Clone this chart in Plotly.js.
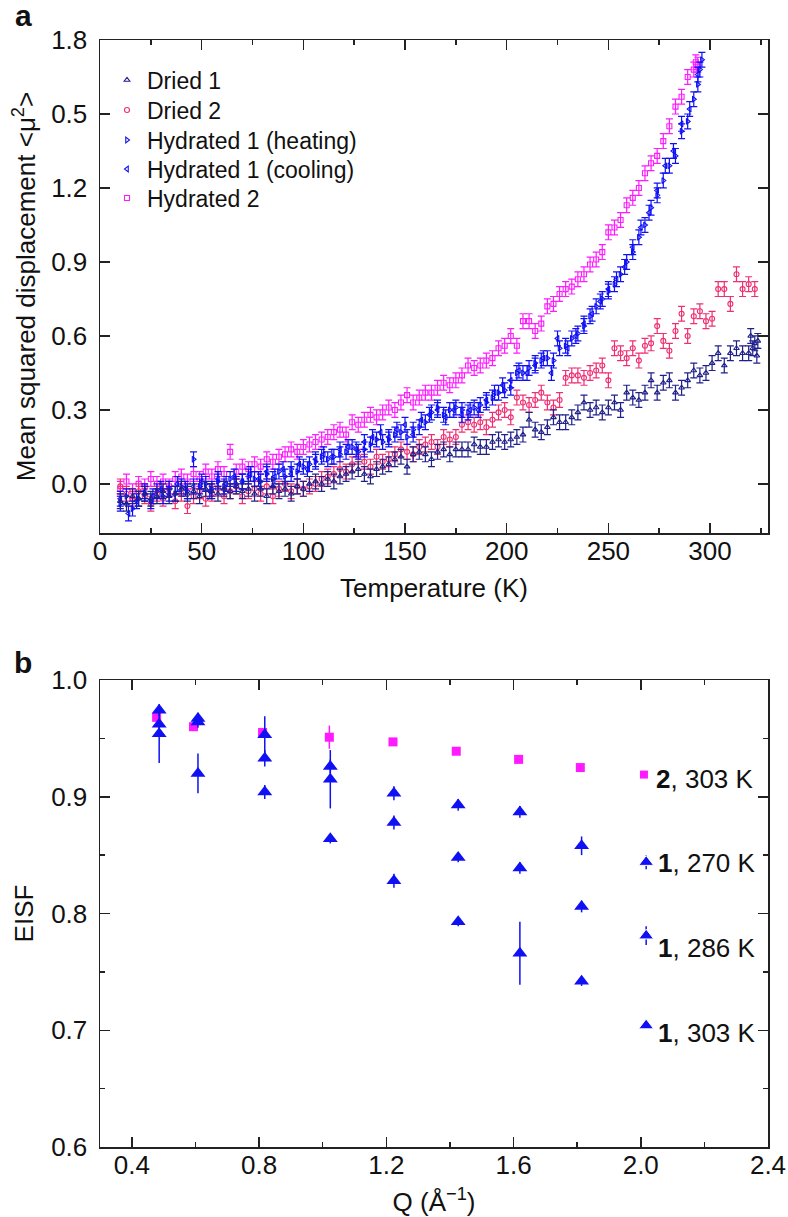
<!DOCTYPE html>
<html>
<head>
<meta charset="utf-8">
<script src="https://cdn.plot.ly/plotly-3.0.1.min.js"></script>
<style>
  html, body { margin: 0; padding: 0; background: #fff; }
  #chart { width: 788px; height: 1217px; }
</style>
</head>
<body>
<div id="chart"></div>
<script>
// ---- panel a: mean squared displacement vs temperature ----
const tempDried1 = [10,13,16,19,22,25,28,31,34,37,40,43,46,49,52,55,58,61,64,67,70,73,76,79,82,85,88,91,94,97,
  100,103,106,109,112,115,118,121,124,127,130,133,136,139,142,145,148,151,154,157,160,163,166,169,172,175,178,181,184,187,
  190,193,196,199,202,205,208,211,214,217,220,223,226,229,232,235,238,241,244,247,250,253,256,259,262,265,268,271,274,277,
  280,283,286,289,292,295,298,301,304,307,310,313,316,319,322,320,321,323,323.5];
const msdDried1 = [-0.07,-0.08,-0.05,-0.06,-0.04,-0.06,-0.05,-0.03,-0.05,-0.04,-0.02,-0.04,-0.03,-0.05,-0.02,-0.03,-0.04,-0.02,-0.03,-0.01,
  -0.03,-0.02,-0.04,-0.02,-0.05,-0.01,-0.03,-0.02,-0.04,-0.01,-0.02,0.00,0.01,0.00,0.02,0.01,0.03,0.04,0.05,0.06,
  0.04,0.03,0.06,0.07,0.08,0.10,0.11,0.07,0.12,0.13,0.12,0.10,0.13,0.14,0.12,0.14,0.14,0.14,0.16,0.15,
  0.15,0.17,0.18,0.17,0.18,0.19,0.20,0.26,0.22,0.21,0.23,0.27,0.25,0.25,0.27,0.29,0.33,0.30,0.31,0.29,
  0.31,0.33,0.30,0.37,0.35,0.34,0.37,0.42,0.37,0.41,0.42,0.37,0.39,0.42,0.46,0.44,0.45,0.49,0.53,0.48,
  0.53,0.55,0.53,0.53,0.57,0.60,0.55,0.52,0.58];

const tempDried2 = [10,13,16,19,22,25,28,31,34,37,40,43,46,49,52,55,58,61,64,67,70,73,76,79,82,85,88,91,94,97,
  100,103,106,109,112,115,118,121,124,127,130,133,136,139,142,145,148,151,154,157,160,163,166,169,172,175,178,181,184,187,
  190,193,196,199,202,205,208,211,214,217,220,223,226,229,232,235,238,241,244,247,250,253,256,259,262,265,268,271,274,277,
  280,283,286,289,292,295,298,301,304,307,310,313,316,319,322];
const msdDried2 = [-0.01,-0.04,-0.06,-0.03,-0.05,-0.08,-0.04,-0.06,-0.02,-0.07,-0.04,-0.09,-0.05,-0.03,-0.06,-0.04,-0.02,-0.05,-0.03,-0.01,
  -0.05,-0.03,-0.02,-0.04,-0.01,-0.05,-0.02,0.00,-0.03,-0.01,-0.02,-0.01,0.00,0.02,0.03,0.04,0.06,0.05,0.08,0.11,
  0.09,0.07,0.11,0.09,0.10,0.12,0.14,0.13,0.12,0.15,0.16,0.17,0.15,0.19,0.18,0.19,0.24,0.25,0.24,0.25,
  0.23,0.26,0.29,0.30,0.27,0.35,0.33,0.32,0.34,0.37,0.33,0.31,0.34,0.43,0.44,0.44,0.43,0.45,0.46,0.48,
  0.42,0.55,0.53,0.51,0.55,0.50,0.56,0.57,0.64,0.58,0.54,0.62,0.69,0.60,0.68,0.70,0.66,0.67,0.79,0.79,
  0.73,0.85,0.79,0.81,0.79];

const tempHeating = [10,13,16,19,22,25,28,31,34,37,40,43,46,49,52,55,58,61,64,67,70,73,76,79,82,85,88,91,94,97,
  100,103,106,109,112,115,118,121,124,127,130,133,136,139,142,145,148,151,154,157,160,163,166,169,172,175,178,181,184,187,
  190,193,196,199,202,205,208,211,214,217,220,223,226,229,232,235,238,241,244,247,250,253,256,259,262,265,268,271,274,277,
  280,283,286,289,292,294,295,296];
const msdHeating = [-0.08,-0.05,-0.10,-0.06,-0.04,-0.07,-0.03,-0.05,-0.02,-0.04,-0.01,-0.03,0.10,-0.01,0.00,-0.02,0.01,-0.01,0.02,0.00,
  0.01,0.03,0.02,0.01,0.04,0.02,0.05,0.03,0.06,0.05,0.07,0.08,0.09,0.11,0.10,0.11,0.12,0.13,0.15,0.13,
  0.14,0.16,0.18,0.17,0.18,0.20,0.21,0.19,0.22,0.23,0.25,0.29,0.31,0.28,0.30,0.31,0.30,0.29,0.31,0.32,
  0.33,0.35,0.37,0.38,0.39,0.45,0.45,0.47,0.49,0.50,0.51,0.50,0.55,0.56,0.59,0.61,0.64,0.68,0.72,0.75,
  0.78,0.81,0.85,0.90,0.94,1.00,1.05,1.12,1.17,1.23,1.29,1.33,1.43,1.47,1.56,1.62,1.68,1.72];

const tempCooling = [10,14,18,22,26,30,34,38,42,46,50,54,58,62,66,70,74,78,82,86,90,94,98,102,106,110,114,118,122,126,
  130,134,138,142,146,150,154,158,162,166,170,174,178,182,186,190,194,198,202,206,210,214,218,222,225,230,234,238,242,246,
  250,254,258,262,266,270,274,278,282,286,290,294];
const msdCooling = [-0.06,-0.12,-0.07,-0.03,-0.05,-0.02,-0.04,0.00,-0.02,-0.01,0.01,-0.03,0.02,0.00,0.03,0.01,0.04,0.02,0.05,0.03,
  0.06,0.04,0.08,0.06,0.10,0.12,0.11,0.14,0.15,0.14,0.17,0.19,0.21,0.19,0.22,0.24,0.20,0.26,0.28,0.30,
  0.27,0.30,0.28,0.30,0.30,0.34,0.37,0.40,0.42,0.46,0.45,0.48,0.51,0.45,0.59,0.55,0.60,0.65,0.69,0.74,
  0.79,0.83,0.88,0.96,1.04,1.10,1.19,1.29,1.35,1.46,1.52,1.66];

const tempHydrated2 = [10,13,16,19,22,25,28,31,34,37,40,43,46,49,52,55,58,61,64,67,70,73,76,79,82,85,88,91,94,97,
  100,103,106,109,112,115,118,121,124,127,130,133,136,139,142,145,148,151,154,157,160,163,166,169,172,175,178,181,184,187,
  190,193,196,199,202,205,208,211,214,217,220,223,226,229,232,235,238,241,244,247,250,253,256,259,262,265,268,271,274,277,
  280,283,286,289,292,293,294];
const msdHydrated2 = [-0.02,0.01,-0.03,0.00,-0.01,0.02,0.00,0.01,-0.01,0.02,0.03,0.01,0.04,0.02,0.05,0.03,0.06,0.04,0.13,0.05,
  0.07,0.06,0.08,0.07,0.10,0.09,0.11,0.12,0.14,0.13,0.15,0.16,0.17,0.18,0.19,0.21,0.22,0.20,0.25,0.24,
  0.26,0.28,0.27,0.29,0.31,0.30,0.33,0.36,0.33,0.35,0.37,0.37,0.39,0.41,0.40,0.42,0.44,0.48,0.47,0.48,
  0.50,0.51,0.55,0.56,0.60,0.56,0.66,0.66,0.62,0.65,0.72,0.73,0.77,0.79,0.80,0.83,0.85,0.89,0.91,0.94,
  1.02,1.04,1.07,1.13,1.16,1.20,1.26,1.30,1.33,1.39,1.45,1.53,1.57,1.65,1.68,1.71,1.70];

const msdTickVals = [0, 0.3, 0.6, 0.9, 1.2, 1.5, 1.8];
const msdTickText = ['0.0', '0.3', '0.6', '0.9', '1.2', '0.5', '1.8'];

// ---- panel b: EISF vs Q ----
const qSquares = [0.478, 0.594, 0.811, 1.021, 1.221, 1.42, 1.616, 1.81];
const eisf2_303 = [0.968, 0.960, 0.955, 0.951, 0.947, 0.939, 0.932, 0.925];
const err2_303 = [0.003, 0.003, 0.004, 0.010, 0.003, 0.003, 0.003, 0.003];

const qTriangles = [0.486, 0.608, 0.818, 1.024, 1.224, 1.426, 1.62, 1.814];
const eisf1_270 = [0.974, 0.967, 0.953, 0.926, 0.903, 0.893, 0.887, 0.858];
const err1_270 = [0.005, 0.005, 0.016, 0.006, 0.006, 0.005, 0.005, 0.008];
const eisf1_286 = [0.962, 0.964, 0.933, 0.915, 0.878, 0.848, 0.839, 0.806];
const err1_286 = [0.005, 0.005, 0.007, 0.025, 0.006, 0.004, 0.005, 0.005];
const eisf1_303 = [0.954, 0.920, 0.904, 0.864, 0.828, 0.793, 0.766, 0.742];
const err1_303 = [0.025, 0.017, 0.006, 0.004, 0.006, 0.004, 0.027, 0.004];

const keyQ = [2.01, 2.017, 2.017, 2.017];
const keyEisf = [0.919, 0.844, 0.781, 0.704];
const keyErr = [0, 0.006, 0.008, 0];
const keyLabels = ['<b>2</b>, 303 K', '<b>1</b>, 270 K', '<b>1</b>, 286 K', '<b>1</b>, 303 K'];

const font = 'Liberation Sans, Arial, Helvetica, sans-serif';
const ink = '#222';
const navy = '#20208a';
const crimson = '#ee2f72';
const blue = '#1010f5';
const magenta = '#ff1aff';

// one small legend per series so the rows sit where the reference puts them
const legendRowsPx = [80, 110, 140, 169, 198];
const labelShiftPx = [-4, -1, -12, -7];

function msdTrace(x, y, name, symbol, color, legendId) {
    return {
        x: x, y: y, name: name, legend: legendId,
        type: 'scatter', mode: 'markers',
        xaxis: 'x', yaxis: 'y',
        marker: { symbol: symbol, size: 5, color: color, line: { color: color, width: 1.1 } },
        error_y: { type: 'constant', value: 0.03, color: color, thickness: 1.2, width: 3.5 }
    };
}

const traces = [
    msdTrace(tempHydrated2, msdHydrated2, 'Hydrated 2', 'square-open', magenta, 'legend5'),
    msdTrace(tempDried2, msdDried2, 'Dried 2', 'circle-open', crimson, 'legend2'),
    msdTrace(tempCooling, msdCooling, 'Hydrated 1 (cooling)', 'triangle-left-open', blue, 'legend4'),
    msdTrace(tempHeating, msdHeating, 'Hydrated 1 (heating)', 'triangle-right-open', blue, 'legend3'),
    msdTrace(tempDried1, msdDried1, 'Dried 1', 'triangle-up-open', navy, 'legend')
];

// panel b
traces.push({
    x: qSquares, y: eisf2_303, type: 'scatter', mode: 'markers', xaxis: 'x2', yaxis: 'y2', showlegend: false,
    marker: { symbol: 'square', size: 9, color: magenta },
    error_y: { type: 'data', array: err2_303, color: magenta, thickness: 1.5, width: 0 }
});
[[eisf1_270, err1_270], [eisf1_286, err1_286], [eisf1_303, err1_303]].forEach(([y, e]) => {
    traces.push({
        x: qTriangles, y: y, type: 'scatter', mode: 'markers', xaxis: 'x2', yaxis: 'y2', showlegend: false,
        marker: { symbol: 'triangle-up', size: 13, color: blue },
        error_y: { type: 'data', array: e, color: blue, thickness: 1.5, width: 0 }
    });
});
traces.push({
    x: keyQ, y: keyEisf, type: 'scatter', mode: 'markers', xaxis: 'x2', yaxis: 'y2', showlegend: false,
    marker: { symbol: ['square', 'triangle-up', 'triangle-up', 'triangle-up'], size: [9, 13, 13, 13],
              color: [magenta, blue, blue, blue], opacity: 1 },
    error_y: { type: 'data', array: keyErr, color: blue, thickness: 1.5, width: 0 }
});

const axisBase = {
    showline: true, linecolor: ink, linewidth: 1.5, mirror: 'ticks',
    ticks: 'inside', ticklen: 10, tickwidth: 1.5, tickcolor: ink,
    showgrid: false, zeroline: false, ticklabelstandoff: 6,
    tickfont: { family: font, size: 26, color: '#111' }
};

const domainX = [100 / 788, 768 / 788];

const keyAnnotations = keyLabels.map((t, i) => ({
    xref: 'x2', yref: 'y2', x: keyQ[i], y: keyEisf[i], text: t, showarrow: false,
    xanchor: 'left', yanchor: 'middle', xshift: 10, yshift: labelShiftPx[i],
    font: { family: font, size: 26, color: '#111' }
}));

const legendBase = {
    x: 107 / 788, xanchor: 'left', yanchor: 'middle',
    bgcolor: 'rgba(0,0,0,0)', font: { family: font, size: 23, color: '#111' }
};

const layout = {
    width: 788, height: 1217,
    margin: { t: 0, r: 0, b: 0, l: 0 },
    paper_bgcolor: '#fff', plot_bgcolor: '#fff',
    font: { family: font, color: '#111' },
    showlegend: true,
    legend: { ...legendBase, y: 1 - legendRowsPx[0] / 1217 },
    legend2: { ...legendBase, y: 1 - legendRowsPx[1] / 1217 },
    legend3: { ...legendBase, y: 1 - legendRowsPx[2] / 1217 },
    legend4: { ...legendBase, y: 1 - legendRowsPx[3] / 1217 },
    legend5: { ...legendBase, y: 1 - legendRowsPx[4] / 1217 },
    xaxis: {
        ...axisBase, domain: domainX, anchor: 'y', range: [0, 328.5], ticklabelstandoff: -6,
        tickvals: [0, 50, 100, 150, 200, 250, 300],
        minor: { dtick: 25, tick0: 0, ticks: 'inside', ticklen: 5, tickwidth: 1.5, tickcolor: ink },
        title: { text: 'Temperature (K)', font: { family: font, size: 26 }, standoff: 14 }
    },
    yaxis: {
        ...axisBase, domain: [1 - 533 / 1217, 1 - 40 / 1217], anchor: 'x', range: [-0.199, 1.8],
        tickvals: msdTickVals, ticktext: msdTickText,
        title: { text: 'Mean squared displacement &lt;μ<sup>2</sup>&gt;', font: { family: font, size: 26 }, standoff: 8 }
    },
    xaxis2: {
        ...axisBase, domain: domainX, anchor: 'y2', range: [0.3, 2.4], ticklabelstandoff: -6,
        tickvals: [0.4, 0.8, 1.2, 1.6, 2.0, 2.4], ticktext: ['0.4', '0.8', '1.2', '1.6', '2.0', '2.4'],
        minor: { dtick: 0.2, tick0: 0, ticks: 'inside', ticklen: 5, tickwidth: 1.5, tickcolor: ink },
        title: { text: 'Q (Å<sup>−1</sup>)', font: { family: font, size: 26 }, standoff: 20 }
    },
    yaxis2: {
        ...axisBase, domain: [1 - 1147 / 1217, 1 - 680 / 1217], anchor: 'x2', range: [0.6, 1.0],
        tickvals: [0.6, 0.7, 0.8, 0.9, 1.0], ticktext: ['0.6', '0.7', '0.8', '0.9', '1.0'],
        minor: { dtick: 0.05, tick0: 0, ticks: 'inside', ticklen: 5, tickwidth: 1.5, tickcolor: ink },
        title: { text: 'EISF', font: { family: font, size: 26 }, standoff: 10 }
    },
    annotations: [
        { xref: 'paper', yref: 'paper', x: 23 / 788, y: 1 - 16 / 1217, text: '<b>a</b>', showarrow: false,
          xanchor: 'center', yanchor: 'middle', font: { family: font, size: 30, color: '#111' } },
        { xref: 'paper', yref: 'paper', x: 23 / 788, y: 1 - 662 / 1217, text: '<b>b</b>', showarrow: false,
          xanchor: 'center', yanchor: 'middle', font: { family: font, size: 30, color: '#111' } },
        ...keyAnnotations
    ]
};

Plotly.newPlot('chart', traces, layout, { displayModeBar: false, staticPlot: true });
</script>
</body>
</html>
